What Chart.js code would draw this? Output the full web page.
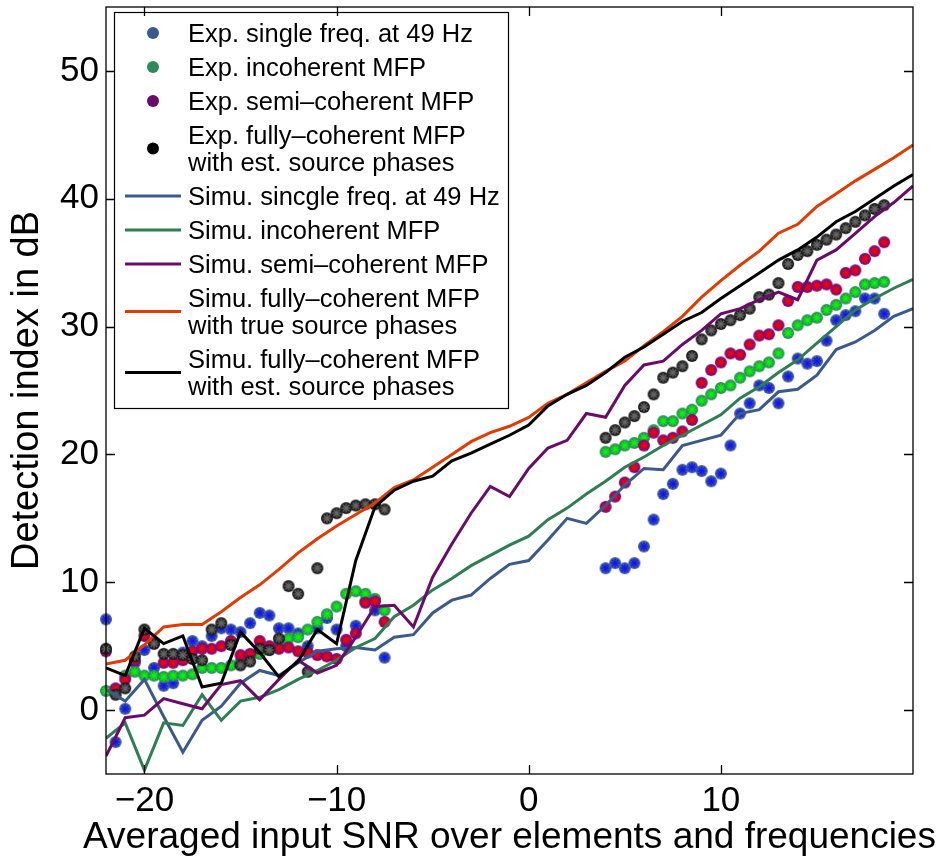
<!DOCTYPE html>
<html>
<head>
<meta charset="utf-8">
<script src="https://cdn.jsdelivr.net/npm/chart.js@4/dist/chart.umd.min.js"></script>
<style>
  body { margin: 0; background: #fff; }
  canvas { display: block; }
</style>
</head>
<body>
<canvas id="chart" width="941" height="859"></canvas>
<script>
// input SNR of the experimental points (two measurement runs)
const snrExp = [-22, -21.5, -21, -20.5, -20, -19.5, -19, -18.5, -18, -17.5, -17, -16.5, -16, -15.5, -15,
    -14.5, -14, -13.5, -13, -12.5, -12, -11.5, -11, -10.5, -10, -9.5, -9, -8.5, -8, -7.5,
    4, 4.5, 5, 5.5, 6, 6.5, 7, 7.5, 8, 8.5, 9, 9.5, 10, 10.5, 11,
    11.5, 12, 12.5, 13, 13.5, 14, 14.5, 15, 15.5, 16, 16.5, 17, 17.5, 18, 18.5];

// input SNR of the simulation curves
const snrSim = [-22, -21, -20, -19, -18, -17, -16, -15, -14, -13, -12, -11, -10, -9, -8, -7, -6, -5, -4, -3, -2,
    -1, 0, 1, 2, 3, 4, 5, 6, 7, 8, 9, 10, 11, 12, 13, 14, 15, 16, 17, 18, 19, 20];

const expSingle = [7.1, -2.5, 0.1, 3.7, 4.7, 3.3, 1.9, 2.1, 4.5, 5.4, 5.0, 5.8, 6.4, 6.3, 6.1,
    6.8, 7.6, 7.4, 6.4, 6.4, 6.0, 5.0, 6.4, 7.2, 6.3, 5.0, 6.6, 8.5, 7.8, 4.1,
    11.1, 11.5, 11.1, 11.5, 12.8, 14.9, 16.9, 17.7, 18.8, 19.0, 18.7, 17.9, 18.5, 20.7, 23.2,
    24.0, 25.4, 25.2, 24.0, 26.1, 27.5, 27.1, 27.3, 28.9, 30.5, 30.9, 31.2, 32.2, 32.2, 31.0];
const expIncoh = [1.5, 1.6, 2.7, 3.0, 2.7, 2.7, 2.6, 2.7, 2.7, 2.8, 3.3, 3.3, 3.3, 3.5, 3.8,
    4.2, 4.4, 4.7, 5.2, 5.6, 5.7, 6.3, 6.9, 7.5, 8.1, 9.1, 9.3, 9.1, 8.7, 7.8,
    20.2, 20.4, 20.7, 20.9, 21.3, 21.9, 22.6, 22.6, 23.2, 23.5, 24.2, 24.7, 25.2, 25.4, 26.0,
    26.5, 26.9, 27.2, 27.9, 29.5, 30.1, 30.5, 30.7, 31.3, 31.7, 32.2, 32.7, 33.3, 33.4, 33.5];
const expSemi = [4.6, 1.7, 2.4, 3.9, 5.8, 5.2, 3.7, 3.7, 3.9, 4.6, 4.8, 4.8, 5.0, 5.4, 4.3,
    4.4, 5.4, 5.0, 4.8, 4.9, 4.6, 4.5, 4.3, 4.2, 4.0, 5.5, 6.0, 8.4, 8.5, 6.9,
    15.9, 16.7, 17.8, 19.0, 20.7, 21.7, 21.1, 21.3, 21.8, 22.7, 25.6, 26.6, 27.2, 27.9, 27.8,
    28.6, 29.3, 29.4, 30.1, 32.0, 33.1, 33.1, 33.2, 33.3, 32.9, 34.2, 34.4, 35.3, 35.9, 36.6];
const expFull = [4.8, 1.2, 1.7, 4.2, 6.3, 5.2, 4.4, 4.4, 4.3, 4.0, 3.9, 6.3, 6.8, 5.1, 3.5,
    3.8, 4.8, 4.7, 5.6, 9.7, 9.1, 3.0, 11.1, 15.0, 15.4, 15.8, 16.0, 16.1, 16.1, 15.7,
    21.3, 21.9, 22.5, 23.0, 23.7, 24.7, 26.0, 26.4, 26.9, 27.7, 29.0, 29.7, 30.2, 30.5, 30.9,
    31.4, 32.3, 32.5, 33.4, 34.9, 35.6, 35.9, 36.4, 36.8, 37.2, 37.7, 38.2, 38.7, 39.2, 39.5];

const simSingle = [1.6, 0.7, 2.4, -0.5, -3.3, -0.8, 0.3, 2.1, 3.1, 2.7, 3.7, 4.6, 4.8, 4.9, 4.7, 5.7, 5.9,
    7.6, 8.6, 9.0, 10.3, 11.4, 11.7, 13.3, 15.0, 14.6, 16.0, 17.6, 18.9, 18.8, 20.7, 21.1, 21.5,
    23.2, 23.5, 24.9, 25.1, 26.2, 28.2, 28.8, 29.7, 30.8, 31.4];
const simIncoh = [-2.2, -1.0, -4.7, -1.0, -1.2, 1.2, -0.8, 0.7, 1.0, 1.6, 2.4, 3.1, 3.9, 4.9, 5.6, 7.3, 8.2,
    9.4, 10.3, 11.3, 12.1, 12.9, 13.6, 14.9, 15.8, 16.9, 17.9, 19.0, 19.8, 20.7, 21.5, 22.3, 23.1,
    24.4, 25.3, 26.4, 27.4, 28.7, 30.0, 31.3, 32.2, 33.0, 33.7];
const simSemi = [-3.6, -0.6, -0.4, 0.9, 0.5, 0.1, 2.0, 2.3, 0.8, 2.4, 3.9, 2.9, 3.5, 5.7, 8.1, 8.2, 6.5,
    10.4, 13.0, 15.4, 17.5, 16.7, 18.9, 20.5, 21.1, 23.2, 22.9, 25.4, 27.0, 27.3, 28.6, 29.7, 31.0,
    31.4, 32.1, 32.7, 32.1, 35.2, 36.0, 37.3, 38.6, 39.7, 41.0];
const simTrue = [3.6, 3.9, 5.1, 6.5, 6.7, 6.7, 7.7, 8.8, 9.8, 11.0, 12.3, 13.4, 14.4, 15.3, 16.2, 17.4, 18.0,
    19.0, 20.0, 21.0, 21.7, 22.2, 22.9, 24.0, 24.7, 25.6, 26.5, 27.3, 28.5, 29.6, 30.8, 32.3, 33.6,
    34.8, 35.9, 37.3, 38.0, 39.4, 40.4, 41.4, 42.3, 43.2, 44.2];
const simEst = [3.3, 2.7, 6.4, 5.2, 5.8, 1.8, 2.1, 6.1, 4.5, 2.6, 3.8, 6.3, 5.2, 11.7, 15.9, 17.2, 17.9,
    18.3, 19.5, 20.1, 20.8, 21.5, 22.3, 23.8, 24.7, 25.4, 26.4, 27.6, 28.4, 29.4, 30.4, 31.1, 32.2,
    33.2, 34.2, 35.2, 36.0, 37.0, 38.2, 39.0, 40.0, 41.0, 41.9];

const xTicks = [-20, -10, 0, 10];
const yTicks = [0, 10, 20, 30, 40, 50];
const xLabel = 'Averaged input SNR over elements and frequencies';
const yLabel = 'Detection index in dB';

const FONT = '"Liberation Sans", Arial, Helvetica, sans-serif';

// filled disc with an asterisk on top, used as the experimental marker
function makeMarker(fill, star) {
    const c = document.createElement('canvas');
    c.width = c.height = 16;
    const g = c.getContext('2d');
    g.fillStyle = fill;
    g.beginPath();
    g.arc(8, 8, 6, 0, Math.PI * 2);
    g.fill();
    g.strokeStyle = star;
    g.lineWidth = 1.3;
    for (let k = 0; k < 4; k++) {
        const a = k * Math.PI / 4;
        const dx = 4.6 * Math.cos(a), dy = 4.6 * Math.sin(a);
        g.beginPath();
        g.moveTo(8 - dx, 8 - dy);
        g.lineTo(8 + dx, 8 + dy);
        g.stroke();
    }
    return c;
}

function pairs(xs, ys) {
    return ys.map((y, i) => ({x: xs[i], y: y}));
}

function expSet(label, ys, fill, star, dot, order) {
    return {
        label: label, data: pairs(snrExp, ys), showLine: false,
        pointStyle: makeMarker(fill, star), pointRadius: 6,
        legendDot: dot, order: order, clip: false
    };
}

function simSet(label, ys, color, order) {
    return {
        label: label, data: pairs(snrSim, ys), showLine: true,
        borderColor: color, borderWidth: 3, pointRadius: 0, tension: 0,
        order: order
    };
}

// legend box in the upper left corner of the axes
const boxLegend = {
    id: 'boxLegend',
    afterDatasetsDraw(chart) {
        const ctx = chart.ctx;
        const a = chart.chartArea;
        const left = a.left + 8, top = a.top + 5;
        const w = 394, h = 396;
        ctx.save();
        ctx.fillStyle = '#fff';
        ctx.fillRect(left, top, w, h);
        ctx.strokeStyle = '#000';
        ctx.lineWidth = 1.2;
        ctx.strokeRect(left + 0.5, top + 0.5, w, h);
        ctx.font = '25.5px ' + FONT;
        ctx.textBaseline = 'middle';
        ctx.textAlign = 'left';
        let y = top + 23;
        chart.data.datasets.forEach(ds => {
            const lines = ds.label.split('\n');
            const my = y + (lines.length - 1) * 27 / 2 - 2;
            if (ds.showLine) {
                ctx.strokeStyle = ds.borderColor;
                ctx.lineWidth = 3;
                ctx.beginPath();
                ctx.moveTo(left + 11, my);
                ctx.lineTo(left + 67, my);
                ctx.stroke();
            } else {
                ctx.fillStyle = ds.legendDot;
                ctx.beginPath();
                ctx.arc(left + 39, my, 6, 0, Math.PI * 2);
                ctx.fill();
            }
            ctx.fillStyle = '#000';
            lines.forEach((t, i) => ctx.fillText(t, left + 74, y + i * 27));
            y += (lines.length - 1) * 27 + 34;
        });
        ctx.restore();
    }
};

// axes box with inward tick marks on all four sides, plus the x label
// (drawn here so it may run wider than the plot area)
const axesBox = {
    id: 'axesBox',
    afterDraw(chart) {
        const ctx = chart.ctx;
        const a = chart.chartArea;
        const xs = chart.scales.x, ys = chart.scales.y;
        const len = 9;
        ctx.save();
        ctx.strokeStyle = '#000';
        ctx.lineWidth = 1.3;
        ctx.strokeRect(a.left, a.top, a.right - a.left, a.bottom - a.top);
        ctx.beginPath();
        xs.ticks.forEach(t => {
            const px = Math.round(xs.getPixelForValue(t.value)) + 0.5;
            ctx.moveTo(px, a.bottom); ctx.lineTo(px, a.bottom - len);
            ctx.moveTo(px, a.top); ctx.lineTo(px, a.top + len);
        });
        ys.ticks.forEach(t => {
            const py = Math.round(ys.getPixelForValue(t.value)) + 0.5;
            ctx.moveTo(a.left, py); ctx.lineTo(a.left + len, py);
            ctx.moveTo(a.right, py); ctx.lineTo(a.right - len, py);
        });
        ctx.stroke();

        ctx.fillStyle = '#000';
        ctx.font = '37px ' + FONT;
        ctx.textAlign = 'center';
        ctx.textBaseline = 'alphabetic';
        ctx.fillText(xLabel, (a.left + a.right) / 2, 848);
        ctx.restore();
    }
};

function minus(v) {
    return v < 0 ? '\u2212' + Math.abs(v) : String(v);
}

// the axes sit at fixed offsets, so drop the padding reserved for edge labels
function noEdgePad(s) {
    s.paddingTop = 0;
    s.paddingBottom = 0;
    s.paddingLeft = 0;
    s.paddingRight = 0;
}

new Chart(document.getElementById('chart'), {
    type: 'scatter',
    data: {
        datasets: [
            expSet('Exp. single freq. at 49 Hz', expSingle, '#3d5c99', '#1010ff', '#3a5a8f', 9),
            expSet('Exp. incoherent MFP', expIncoh, '#2e8b57', '#00ff00', '#2e8b57', 8),
            expSet('Exp. semi\u2013coherent MFP', expSemi, '#7a0a7a', '#ff0000', '#6b0a6b', 7),
            expSet('Exp. fully\u2013coherent MFP\nwith est. source phases', expFull, '#1a1a1a', '#6a6a6a', '#000000', 6),
            simSet('Simu. sincgle freq. at 49 Hz', simSingle, '#3a5a8c', 5),
            simSet('Simu. incoherent MFP', simIncoh, '#2e7d55', 4),
            simSet('Simu. semi\u2013coherent MFP', simSemi, '#6a0a6a', 3),
            simSet('Simu. fully\u2013coherent MFP\nwith true source phases', simTrue, '#e03c00', 2),
            simSet('Simu. fully\u2013coherent MFP\nwith est. source phases', simEst, '#000000', 1)
        ]
    },
    options: {
        responsive: false,
        animation: false,
        font: {family: FONT},
        layout: {padding: {top: 7, right: 28, left: 0, bottom: 0}},
        plugins: {legend: {display: false}, tooltip: {enabled: false}},
        scales: {
            x: {
                type: 'linear', min: -22, max: 20,
                afterBuildTicks: s => { s.ticks = xTicks.map(v => ({value: v})); },
                afterFit: s => { s.height = 85; noEdgePad(s); },
                grid: {display: false, drawTicks: false},
                border: {display: false},
                ticks: {color: '#000', padding: 6, font: {family: FONT, size: 35}, callback: minus}
            },
            y: {
                type: 'linear', min: -5, max: 55,
                afterBuildTicks: s => { s.ticks = yTicks.map(v => ({value: v})); },
                afterFit: s => { s.width = 106; noEdgePad(s); },
                grid: {display: false, drawTicks: false},
                border: {display: false},
                ticks: {color: '#000', padding: 7, font: {family: FONT, size: 35}},
                title: {
                    display: true, text: yLabel,
                    color: '#000', font: {family: FONT, size: 38}, padding: {top: 5, bottom: 0}
                }
            }
        }
    },
    plugins: [boxLegend, axesBox]
});
</script>
</body>
</html>
